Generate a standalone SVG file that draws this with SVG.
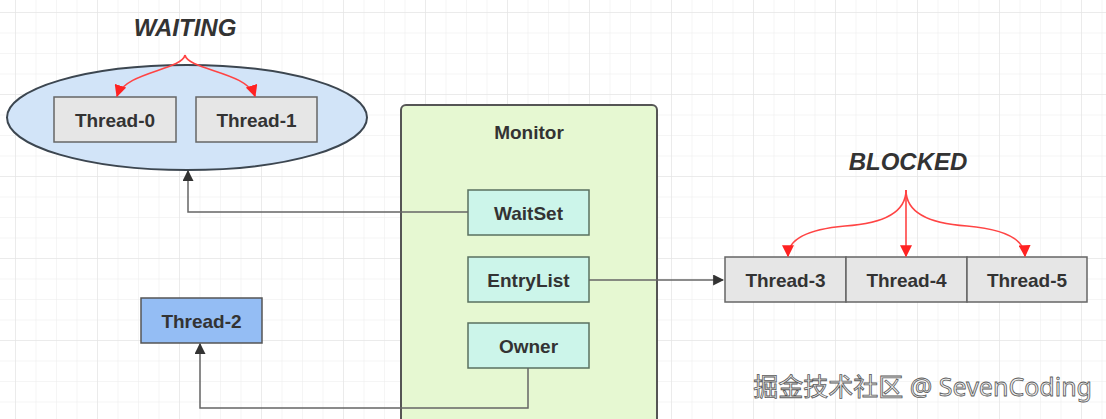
<svg xmlns="http://www.w3.org/2000/svg" width="1106" height="419" viewBox="0 0 1106 419">
<style>
.lbl{font-family:"Liberation Sans","Open Sans",Arial,sans-serif;font-weight:bold;font-size:19px;fill:#333;text-anchor:middle;dominant-baseline:central}
.state{font-family:"Liberation Sans",Arial,sans-serif;font-weight:bold;font-style:italic;font-size:24px;fill:#333;text-anchor:middle;dominant-baseline:central}
.thr{fill:#e6e6e6;stroke:#666;stroke-width:1.5}
.slot{fill:#ccf5ea;stroke:#5a7060;stroke-width:1.5}
.conn{fill:none;stroke:#666;stroke-width:1.5}
.red{fill:none;stroke:#f44;stroke-width:1.6}
</style>
<defs>
<pattern id="g" width="20.5" height="20.5" patternUnits="userSpaceOnUse" patternTransform="translate(15 12)">
<path d="M0 0H20.5M0 0V20.5" stroke="#ececec" stroke-width="1" fill="none"/>
</pattern>
<pattern id="G" width="82" height="82" patternUnits="userSpaceOnUse" patternTransform="translate(15 12)">
<path d="M0 0H82M0 0V82" stroke="#e2e2e2" stroke-width="1" fill="none"/>
</pattern>
<marker id="ab" viewBox="0 0 10 10" refX="9" refY="5" markerWidth="11" markerHeight="11" markerUnits="userSpaceOnUse" orient="auto"><path d="M0 0L10 5L0 10z" fill="#333"/></marker>
<marker id="ar" viewBox="0 0 10 10" refX="9" refY="5" markerWidth="12" markerHeight="12" markerUnits="userSpaceOnUse" orient="auto"><path d="M0 0L10 5L0 10z" fill="#f22"/></marker>
</defs>
<rect width="1106" height="419" fill="#fff"/>
<rect width="1106" height="419" fill="url(#g)"/>
<rect width="1106" height="419" fill="url(#G)"/>

<g id="waiting">
<text class="state" x="185" y="27">WAITING</text>
<ellipse cx="187" cy="117.5" rx="180" ry="52.5" fill="#d2e4f8" stroke="#3c4650" stroke-width="2"/>
<g id="thread0"><rect class="thr" x="54" y="97" width="122" height="45"/><text class="lbl" x="115" y="120">Thread-0</text></g>
<g id="thread1"><rect class="thr" x="196" y="97" width="121" height="45"/><text class="lbl" x="256.5" y="120">Thread-1</text></g>
</g>

<g id="monitor">
<rect x="401" y="105" width="256" height="330" rx="5" fill="#e6f8d2" stroke="#555" stroke-width="2"/>
<text class="lbl" x="529" y="132">Monitor</text>
<g id="waitset"><rect class="slot" x="468" y="190" width="121" height="45"/><text class="lbl" x="528.5" y="213">WaitSet</text></g>
<g id="entrylist"><rect class="slot" x="468" y="257" width="121" height="45"/><text class="lbl" x="528.5" y="280">EntryList</text></g>
<g id="owner"><rect class="slot" x="468" y="323" width="121" height="45"/><text class="lbl" x="528.5" y="346">Owner</text></g>
</g>

<g id="thread2">
<rect x="141" y="298" width="121" height="45" fill="#94bdf4" stroke="#555" stroke-width="1.5"/>
<text class="lbl" x="201.5" y="321">Thread-2</text>
</g>

<g id="blocked">
<text class="state" x="908" y="161">BLOCKED</text>
<g id="thread3"><rect class="thr" x="725" y="257" width="121" height="45"/><text class="lbl" x="785.5" y="280">Thread-3</text></g>
<g id="thread4"><rect class="thr" x="846" y="257" width="121" height="45"/><text class="lbl" x="906.5" y="280">Thread-4</text></g>
<g id="thread5"><rect class="thr" x="967" y="257" width="120" height="45"/><text class="lbl" x="1027" y="280">Thread-5</text></g>
</g>

<g id="connectors">
<path class="conn" d="M468 212H188V171" marker-end="url(#ab)"/>
<path class="conn" d="M589 280H723" marker-end="url(#ab)"/>
<path class="conn" d="M528 368V408H200V344" marker-end="url(#ab)"/>
<path class="red" d="M185 55C182 70 125 72 117 96" marker-end="url(#ar)"/>
<path class="red" d="M185 55C188 70 247 72 255 96" marker-end="url(#ar)"/>
<path class="red" d="M906 190Q906 222 845 226Q788 231 788 256" marker-end="url(#ar)"/>
<path class="red" d="M906 190V256" marker-end="url(#ar)"/>
<path class="red" d="M906 190Q906 222 967 226Q1024 231 1025 256" marker-end="url(#ar)"/>
</g>

<text x="1092" y="386" text-anchor="end" dominant-baseline="central" font-family="'Noto Sans','Noto Sans CJK SC',sans-serif" font-size="25" fill="#eeeeee" stroke="#5a5a5a" stroke-width="0.8">掘金技术社区 @ SevenCoding</text>
</svg>
